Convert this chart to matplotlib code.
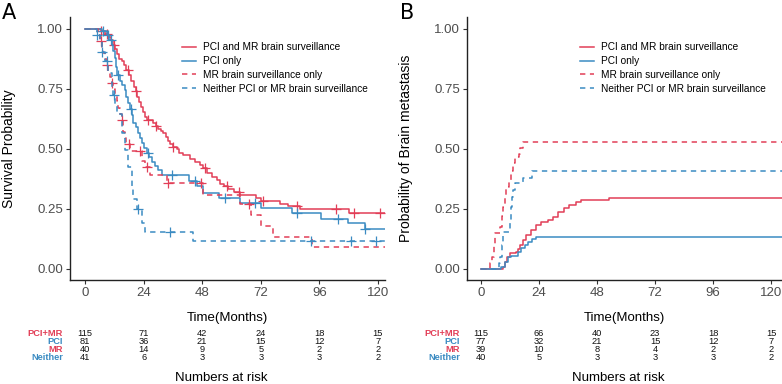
import numpy as np
import matplotlib
matplotlib.use('Agg')
import matplotlib.pyplot as plt
import matplotlib.transforms as mtransforms

plt.rcParams['font.family'] = ['Liberation Sans', 'DejaVu Sans']

RED = '#E23E57'
BLUE = '#3B8BC2'

groups = ['PCI and MR brain surveillance', 'PCI only',
          'MR brain surveillance only', 'Neither PCI or MR brain surveillance']
short = ['PCI+MR', 'PCI', 'MR', 'Neither']
colors = [RED, BLUE, RED, BLUE]
styles = ['-', '-', (0, (3.5, 3)), (0, (3.5, 3))]

risk_times = [0, 24, 48, 72, 96, 120]

# ---- panel A: overall survival (Kaplan-Meier) ----
a_pcimr_t = [0, 6.5, 8, 9.5, 10.5, 11.5, 12.3, 13, 14, 15, 16, 17, 18, 19, 20, 20.8,
             21.5, 22.3, 23, 23.7, 24.5, 25.5, 28, 29, 30, 31, 32, 33, 34, 35, 36,
             37.5, 38.5, 40.2, 43, 45, 47, 48.5, 50, 52, 54, 55.5, 57, 58.6, 61,
             63.4, 70.2, 72.3, 79.8, 83.2, 88, 108, 125]
a_pcimr_s = [1.0, 0.99, 0.98, 0.965, 0.955, 0.935, 0.915, 0.895, 0.875, 0.865, 0.85,
             0.83, 0.81, 0.785, 0.76, 0.74, 0.715, 0.695, 0.675, 0.655, 0.635, 0.62,
             0.61, 0.595, 0.585, 0.575, 0.565, 0.55, 0.535, 0.52, 0.51, 0.50, 0.485,
             0.475, 0.46, 0.445, 0.435, 0.42, 0.40, 0.385, 0.37, 0.355, 0.345, 0.335,
             0.322, 0.31, 0.295, 0.285, 0.272, 0.262, 0.25, 0.232, 0.232]
a_pci_t = [0, 7, 8.9, 9.8, 10.9, 11.6, 12.3, 12.8, 13.3, 14.3, 15.3, 16.4, 17, 17.7,
           18.4, 19.1, 19.8, 20.8, 21.8, 22.5, 23.2, 24.2, 25.2, 26.2, 27.3, 28.5, 30,
           31.4, 42.5, 46, 48.4, 55, 63.4, 72.3, 84.6, 96.8, 107.7, 114.6, 125]
a_pci_s = [1.0, 0.99, 0.975, 0.955, 0.935, 0.91, 0.88, 0.84, 0.81, 0.785, 0.765, 0.745,
           0.715, 0.69, 0.665, 0.64, 0.61, 0.59, 0.565, 0.545, 0.525, 0.505, 0.485,
           0.465, 0.447, 0.43, 0.4125, 0.392, 0.365, 0.345, 0.315, 0.295, 0.274, 0.253,
           0.233, 0.21, 0.19, 0.167, 0.167]
a_mr_t = [0, 5.4, 6.1, 6.8, 7.5, 8.2, 8.9, 9.5, 10.2, 10.9, 11.6, 12.3, 13, 13.6, 14.3,
          15, 15.7, 16.4, 17, 18.4, 23.2, 24.5, 26.6, 33.4, 48.4, 63.4, 68, 72.3, 77,
          92.8, 125]
a_mr_s = [1.0, 0.975, 0.95, 0.925, 0.9, 0.875, 0.85, 0.825, 0.80, 0.775, 0.75, 0.725,
          0.70, 0.67, 0.645, 0.62, 0.57, 0.545, 0.52, 0.49, 0.45, 0.425, 0.392, 0.357,
          0.31, 0.27, 0.225, 0.179, 0.135, 0.09, 0.09]
a_nei_t = [0, 4.8, 6.1, 6.8, 8.2, 9.5, 10.9, 11.6, 12.3, 13, 15, 16.4, 17.7, 19.1, 19.8,
           21.5, 23.2, 24.5, 44.3, 125]
a_nei_s = [1.0, 0.975, 0.95, 0.905, 0.865, 0.815, 0.76, 0.725, 0.685, 0.645, 0.565,
           0.495, 0.425, 0.345, 0.29, 0.25, 0.19, 0.155, 0.115, 0.115]

a_cens = [
    [6.5, 9, 12, 17.5, 21, 26, 29, 36, 49, 58, 63, 73, 87, 103, 110, 121],
    [7.5, 9.5, 10.5, 13.6, 19, 26, 35.5, 45, 57.3, 69.6, 87, 103.6, 114.6],
    [6.5, 9, 11, 15, 18, 22.5, 25.2, 34, 47.7, 67],
    [5, 7, 9, 12, 21.8, 35, 92.7, 109, 119.3],
]

a_risk = [[115, 71, 42, 24, 18, 15],
          [81, 36, 21, 15, 12, 7],
          [40, 14, 9, 5, 2, 2],
          [41, 6, 3, 3, 3, 2]]

# ---- panel B: cumulative incidence of brain metastasis ----
b_pcimr_t = [0, 9.2, 9.9, 10.6, 11.9, 14.7, 15.5, 16, 17.4, 18.8, 20.8, 22.9, 24.9,
             27.7, 29.7, 31.8, 34.5, 36.6, 39.3, 41.4, 53, 125]
b_pcimr_p = [0, 0.01, 0.03, 0.051, 0.065, 0.07, 0.085, 0.1, 0.121, 0.142, 0.1625,
             0.183, 0.197, 0.204, 0.218, 0.239, 0.253, 0.267, 0.28, 0.288, 0.297, 0.297]
b_pci_t = [0, 8.5, 9.9, 11.2, 12.3, 15.3, 16.7, 18.1, 19.5, 21, 22.9, 125]
b_pci_p = [0, 0.01, 0.03, 0.051, 0.056, 0.07, 0.086, 0.1, 0.114, 0.125, 0.135, 0.135]
b_mr_t = [0, 3.7, 4.5, 5.5, 5.8, 8.0, 8.8, 9.2, 9.8, 10.4, 11.5, 12.5, 13.3, 14.2,
          15.8, 16.3, 17.4, 125]
b_mr_p = [0, 0.026, 0.051, 0.10, 0.149, 0.175, 0.22, 0.26, 0.31, 0.34, 0.37, 0.41,
          0.44, 0.465, 0.48, 0.503, 0.53, 0.53]
b_nei_t = [0, 7.3, 8, 8.6, 9.2, 11.9, 12.3, 12.8, 13.3, 14.2, 17.4, 21, 125]
b_nei_p = [0, 0.025, 0.05, 0.1, 0.155, 0.2, 0.26, 0.3, 0.33, 0.357, 0.378, 0.41, 0.41]

b_risk = [[115, 66, 40, 23, 18, 15],
          [77, 32, 21, 15, 12, 7],
          [39, 10, 8, 4, 2, 2],
          [40, 5, 3, 3, 3, 2]]

W, H = 782, 384
fig = plt.figure(figsize=(W / 100, H / 100), dpi=100)


def px_axes(left, top, right, bottom):
    return fig.add_axes([left / W, 1 - bottom / H, (right - left) / W, (bottom - top) / H])


def style_axes(ax, xlim):
    ax.set_xlim(*xlim)
    ax.set_ylim(-0.046, 1.05)
    ax.set_xticks(risk_times)
    ax.set_yticks([0, 0.25, 0.5, 0.75, 1.0])
    ax.set_yticklabels(['0.00', '0.25', '0.50', '0.75', '1.00'])
    for s in ['top', 'right']:
        ax.spines[s].set_visible(False)
    for s in ['left', 'bottom']:
        ax.spines[s].set_color('#222222')
        ax.spines[s].set_linewidth(1.0)
    ax.tick_params(length=3, width=0.8, color='#333333', labelcolor='#4D4D4D',
                   labelsize=9.5, pad=2)


def step_value(t, s, x):
    i = np.searchsorted(t, x, side='right') - 1
    return s[i]


def risk_table(ax, label_right, counts):
    trans = mtransforms.blended_transform_factory(ax.transData, fig.transFigure)
    rows_y = [333.5, 341.5, 349.5, 357.5]
    for k in range(4):
        fy = 1 - rows_y[k] / H
        fig.text(label_right / W, fy, short[k], color=colors[k], fontsize=6.7,
                 fontweight='bold', ha='right', va='center')
        for t, n in zip(risk_times, counts[k]):
            ax.text(t, fy, str(n), transform=trans, fontsize=6.7, ha='center',
                    va='center', color='#111111')
    trans2 = mtransforms.blended_transform_factory(ax.transAxes, fig.transFigure)
    ax.text(0.5, 1 - 318 / H, 'Time(Months)', transform=trans2, ha='center',
            va='center', fontsize=9.5)
    ax.text(0.48, 1 - 378 / H, 'Numbers at risk', transform=trans2, ha='center',
            va='center', fontsize=9.5)


legend_kw = dict(loc='upper left', borderaxespad=0, borderpad=0, frameon=False,
                 handlelength=1.4, handletextpad=0.7, labelspacing=0.38, fontsize=7.3)

# panel A
axA = px_axes(70, 17, 385, 280)
a_curves = [(a_pcimr_t, a_pcimr_s), (a_pci_t, a_pci_s), (a_mr_t, a_mr_s), (a_nei_t, a_nei_s)]
for k, (t, s) in enumerate(a_curves):
    axA.step(t, s, where='post', color=colors[k], linestyle=styles[k], lw=1.1,
             label=groups[k])
    ct = a_cens[k]
    cy = [step_value(np.array(t), np.array(s), x) for x in ct]
    axA.plot(ct, cy, linestyle='none', marker='+', markersize=6.5, mew=0.9,
             color=colors[k])
style_axes(axA, (-6.14, 122.9))
axA.set_ylabel('Survival Probability', fontsize=10)
axA.yaxis.set_label_coords(-0.172, 0.5)
axA.legend(bbox_to_anchor=(0.356, 0.904), **legend_kw)
risk_table(axA, 63, a_risk)
fig.text(2 / W, 1 - 13 / H, 'A', fontsize=15, va='center', ha='left',
         family='DejaVu Sans')

# panel B
axB = px_axes(467, 17, 782, 280)
b_curves = [(b_pcimr_t, b_pcimr_p), (b_pci_t, b_pci_p), (b_mr_t, b_mr_p), (b_nei_t, b_nei_p)]
for k, (t, p) in enumerate(b_curves):
    axB.step(t, p, where='post', color=colors[k], linestyle=styles[k], lw=1.1,
             label=groups[k])
style_axes(axB, (-5.75, 124.5))
axB.set_ylabel('Probability of Brain metastasis', fontsize=10)
axB.yaxis.set_label_coords(-0.172, 0.5)
axB.legend(bbox_to_anchor=(0.359, 0.904), **legend_kw)
risk_table(axB, 460, b_risk)
fig.text(400 / W, 1 - 13 / H, 'B', fontsize=15, va='center', ha='left',
         family='DejaVu Sans')

fig.savefig('out.png', dpi=100)
